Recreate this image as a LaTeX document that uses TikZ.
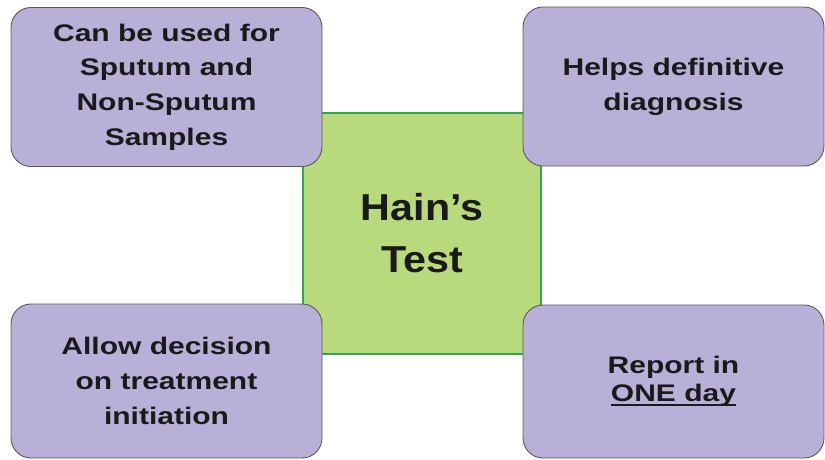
\documentclass[tikz,border=0pt]{standalone}
\usepackage{fontspec}
\newfontfamily\boxfont[FakeStretch=1.25]{Liberation Sans}
\newfontfamily\hubfont[FakeStretch=1.1]{Liberation Sans}
\definecolor{purp}{HTML}{B9B0D7}
\definecolor{grn}{HTML}{B8DA7C}
\definecolor{grnline}{HTML}{2FA550}
\definecolor{ink}{HTML}{1A1A1A}
\newcommand\thickul[1]{\setbox0\hbox{#1}\rlap{\raisebox{-4.5pt}{\rule{\wd0}{2.2pt}}}\box0}
\tikzset{
  infobox/.style={draw=black!65, line width=0.9pt, fill=purp, rounded corners=20pt,
    inner sep=0pt, align=center, text=ink,
    font=\boxfont\bfseries\fontsize{24}{34.7}\selectfont},
  hubbox/.style={draw=grnline, line width=1.2pt, fill=grn, inner sep=0pt,
    align=center, text=ink, minimum width=238pt, minimum height=241pt,
    font=\hubfont\bfseries\fontsize{37.5}{52}\selectfont}
}
\begin{document}
\begin{tikzpicture}[x=1pt,y=-1pt]
\useasboundingbox (0,0) rectangle (825,459);
\fill[white] (0,0) rectangle (825,459);
\node[hubbox] (hub) at (422,233.5) {\raisebox{-2pt}{Hain’s}\\\raisebox{-2pt}{Test}};
\node[infobox, minimum width=311pt, minimum height=159pt] (tl) at (166.5,87)
  {Can be used for\\Sputum and\\Non-Sputum\\Samples};
\node[infobox, minimum width=301pt, minimum height=159pt] (tr) at (673.5,86.5)
  {Helps definitive\\diagnosis};
\node[infobox, minimum width=311pt, minimum height=154pt] (bl) at (166.5,381)
  {\raisebox{-4pt}{Allow decision}\\\raisebox{-4pt}{on treatment}\\\raisebox{-4pt}{initiation}};
\node[infobox, minimum width=301pt, minimum height=153pt] (br) at (673.5,381.5)
  {\raisebox{-4pt}{Report in}\\[-3pt]\thickul{ONE day}};
\end{tikzpicture}
\end{document}
